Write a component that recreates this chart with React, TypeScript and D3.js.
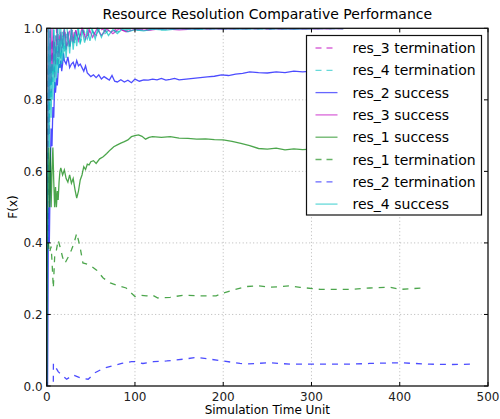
import React from "react";
import * as d3 from "d3";

const W = 500;
const H = 419;
const M = { left: 46.7, right: 488, top: 28.3, bottom: 386 };

const xTicks = [0, 100, 200, 300, 400, 500];
const yTicks = [0.0, 0.2, 0.4, 0.6, 0.8, 1.0];

// [time, F(x)]
const res2Success: [number, number][] = [
  [0, 0], [1, 0], [2, 0.5], [3, 0.4], [4, 0.6], [5, 0.72], [6, 0.67], [7, 0.78], [8, 0.75], [9, 0.85],
  [10, 0.82], [11, 0.86], [12, 0.84], [13, 0.88], [14, 0.9], [15, 0.89], [16, 0.91], [17, 0.88], [18, 0.9],
  [19, 0.93], [20, 0.91], [22, 0.9], [24, 0.92], [26, 0.89], [28, 0.9], [30, 0.905], [32, 0.89], [34, 0.91],
  [36, 0.895], [38, 0.9], [40, 0.89], [42, 0.88], [44, 0.895], [46, 0.875], [48, 0.87], [50, 0.865],
  [53, 0.87], [56, 0.862], [59, 0.87], [62, 0.858], [65, 0.865], [68, 0.86], [71, 0.855], [74, 0.868],
  [77, 0.852], [80, 0.85], [84, 0.856], [88, 0.85], [92, 0.855], [96, 0.848], [100, 0.858], [105, 0.852],
  [110, 0.856], [115, 0.855], [120, 0.858], [125, 0.856], [130, 0.86], [135, 0.855], [140, 0.857],
  [145, 0.86], [150, 0.856], [158, 0.858], [166, 0.86], [174, 0.862], [182, 0.864], [190, 0.866],
  [198, 0.87], [206, 0.868], [214, 0.872], [222, 0.874], [230, 0.878], [240, 0.876], [250, 0.875],
  [260, 0.878], [270, 0.876], [280, 0.88], [290, 0.878], [300, 0.88], [310, 0.882], [320, 0.88],
  [340, 0.879], [360, 0.881], [380, 0.88], [400, 0.882], [420, 0.881], [440, 0.88], [460, 0.882], [480, 0.88],
];

const res1Success: [number, number][] = [
  [0, 0], [1, 0.5], [2, 0.667], [3, 0.5], [4, 0.667], [5, 0.5], [6, 0.6], [7, 0.667], [8, 0.571], [9, 0.5],
  [10, 0.556], [11, 0.5], [12, 0.545], [13, 0.52], [14, 0.57], [15, 0.6], [16, 0.61], [17, 0.6], [18, 0.59],
  [20, 0.604], [22, 0.58], [24, 0.57], [26, 0.59], [28, 0.567], [30, 0.58], [32, 0.55], [34, 0.525],
  [36, 0.545], [38, 0.576], [40, 0.59], [42, 0.613], [44, 0.605], [46, 0.62], [48, 0.618], [50, 0.627],
  [53, 0.63], [56, 0.622], [60, 0.635], [64, 0.641], [68, 0.65], [72, 0.66], [76, 0.669], [80, 0.674],
  [84, 0.679], [88, 0.683], [92, 0.688], [96, 0.697], [100, 0.7], [104, 0.702], [108, 0.698], [112, 0.69],
  [116, 0.695], [120, 0.697], [130, 0.695], [140, 0.697], [150, 0.693], [160, 0.692], [170, 0.69],
  [180, 0.691], [190, 0.689], [200, 0.688], [210, 0.684], [220, 0.678], [230, 0.672], [240, 0.664],
  [250, 0.662], [260, 0.665], [270, 0.66], [280, 0.663], [290, 0.661], [300, 0.662], [320, 0.66],
  [340, 0.663], [360, 0.66], [380, 0.662], [400, 0.661], [430, 0.66],
];

const res1Termination: [number, number][] = [
  [2, 0.4], [3, 0.372], [5, 0.39], [6, 0.35], [7.5, 0.274], [9, 0.361], [11, 0.38], [13, 0.408], [15, 0.39],
  [18, 0.36], [20.7, 0.343], [24.5, 0.361], [28, 0.38], [31, 0.4], [34, 0.427], [37.7, 0.39], [41, 0.344],
  [49, 0.338], [56.6, 0.324], [64, 0.302], [72, 0.288], [79, 0.282], [90, 0.274], [100, 0.25], [106, 0.254],
  [113, 0.252], [120, 0.254], [126, 0.246], [140, 0.248], [155, 0.254], [174, 0.252], [192, 0.252],
  [200, 0.26], [211, 0.268], [226, 0.278], [240, 0.28], [253, 0.276], [276, 0.28], [287, 0.276],
  [310, 0.27], [344, 0.27], [366, 0.274], [389, 0.276], [400, 0.27], [426, 0.274],
];

const res2Termination: [number, number][] = [
  [7.5, 0.012], [7.6, 0.063], [13, 0.04], [22.6, 0.019], [30, 0.031], [39.6, 0.021], [47, 0.019],
  [54.7, 0.037], [64, 0.049], [73.6, 0.056], [85, 0.063], [96, 0.068], [100, 0.068], [109, 0.063],
  [121, 0.068], [136, 0.07], [155, 0.075], [170, 0.08], [185, 0.075], [200, 0.07], [219, 0.063],
  [228, 0.062], [253, 0.065], [276, 0.061], [298, 0.061], [344, 0.061], [366, 0.063], [400, 0.065],
  [434, 0.061], [457, 0.06], [481, 0.061],
];

const res4Success: [number, number][] = [
  [0, 0], [1, 0.5], [2, 1], [3, 0.667], [4, 1], [5, 0.75], [6, 0.9], [7, 0.8], [8, 1], [9, 0.833],
  [10, 0.95], [11, 0.857], [12, 1], [13, 0.875], [14, 0.97], [15, 0.889], [16, 1], [17, 0.9], [18, 0.98],
  [19, 0.91], [20, 1], [22, 0.917], [24, 0.99], [26, 0.93], [28, 1], [30, 0.94], [32, 0.99], [34, 0.95],
  [36, 1], [38, 0.955], [40, 0.995], [43, 0.96], [46, 1], [49, 0.965], [52, 0.995], [55, 0.97], [58, 1],
  [62, 0.975], [66, 0.998], [70, 0.98], [75, 0.997], [80, 0.985], [86, 0.999], [92, 0.99], [100, 0.996],
  [110, 0.993], [120, 0.998], [135, 0.995], [150, 0.999], [170, 0.997], [190, 0.999], [220, 0.998],
  [250, 0.999], [280, 0.998], [310, 0.999], [336, 0.999],
];

const res4Termination: [number, number][] = [
  [0, 0.2], [1, 0.6], [2, 0.95], [3, 0.75], [4, 1], [5, 0.8], [6, 0.97], [7, 0.85], [8, 1], [9, 0.87],
  [10, 0.98], [12, 0.89], [14, 1], [16, 0.91], [18, 0.99], [20, 0.93], [23, 1], [26, 0.94], [29, 0.995],
  [32, 0.955], [35, 1], [38, 0.96], [42, 0.995], [46, 0.97], [50, 1], [55, 0.978], [60, 0.998], [66, 0.985],
  [72, 0.999], [80, 0.99], [90, 0.998], [100, 0.994], [115, 0.999], [130, 0.996], [150, 0.999],
  [180, 0.998], [210, 0.999], [250, 0.998], [290, 0.999], [336, 0.999],
];

const res3Success: [number, number][] = [
  [1, 0.5], [2, 1], [3, 0.8], [4, 1], [5, 0.85], [6, 1], [7, 0.88], [8, 0.98], [10, 0.9], [12, 1],
  [14, 0.92], [16, 0.99], [18, 0.95], [20, 1], [22, 0.94], [24, 0.99], [26, 0.95], [28, 1], [30, 0.96],
  [33, 0.995], [36, 0.965], [40, 1], [44, 0.97], [48, 0.998], [52, 0.975], [57, 0.999], [62, 0.98],
  [68, 0.998], [75, 0.985], [82, 0.999], [90, 0.99], [100, 0.997], [115, 0.994], [130, 0.999],
  [150, 0.996], [175, 0.999], [200, 0.998], [240, 0.999], [280, 0.998], [336, 0.999],
];

const res3Termination: [number, number][] = [
  [1, 0.4], [2, 0.9], [3, 0.7], [4, 1], [5, 0.82], [7, 0.97], [9, 0.86], [11, 1], [13, 0.9], [15, 0.99],
  [17, 0.93], [20, 1], [23, 0.95], [26, 0.995], [29, 0.96], [32, 1], [36, 0.965], [40, 0.998], [45, 0.972],
  [50, 0.999], [56, 0.98], [63, 0.998], [70, 0.986], [80, 0.999], [90, 0.992], [100, 0.998], [120, 0.996],
  [140, 0.999], [170, 0.997], [200, 0.999], [250, 0.998], [300, 0.999], [336, 0.999],
];

const BLUE = "#0000ff";
const GREEN = "#008000";
const MAGENTA = "#bf00bf";
const CYAN = "#00bfbf";

type Series = { name: string; data: [number, number][]; color: string; dashed: boolean };

const series: Series[] = [
  { name: "res_3 termination", data: res3Termination, color: MAGENTA, dashed: true },
  { name: "res_4 termination", data: res4Termination, color: CYAN, dashed: true },
  { name: "res_2 success", data: res2Success, color: BLUE, dashed: false },
  { name: "res_3 success", data: res3Success, color: MAGENTA, dashed: false },
  { name: "res_1 success", data: res1Success, color: GREEN, dashed: false },
  { name: "res_1 termination", data: res1Termination, color: GREEN, dashed: true },
  { name: "res_2 termination", data: res2Termination, color: BLUE, dashed: true },
  { name: "res_4 success", data: res4Success, color: CYAN, dashed: false },
];

const FONT = "'DejaVu Sans', sans-serif";

export default function App() {
  const x = d3.scaleLinear().domain([0, 500]).range([M.left, M.right]);
  const y = d3.scaleLinear().domain([0, 1]).range([M.bottom, M.top]);
  const line = d3
    .line<[number, number]>()
    .x((d) => x(d[0]))
    .y((d) => y(d[1]));

  const legX = 306.5;
  const legY = 35.5;
  const legW = 175;
  const legH = 179.5;
  const rowH = 22.3;

  return (
    <svg
      width={W}
      height={H}
      style={{ position: "absolute", left: 0, top: 0, background: "#fff" }}
      fontFamily={FONT}
    >
      <defs>
        <clipPath id="plot">
          <rect x={M.left} y={M.top - 1} width={M.right - M.left} height={M.bottom - M.top + 1} />
        </clipPath>
      </defs>
      <rect x={0} y={0} width={W} height={H} fill="#fff" />
      <text x={(M.left + M.right) / 2} y={19} textAnchor="middle" fontSize={14} fill="#000">
        Resource Resolution Comparative Performance
      </text>

      {/* grid */}
      {xTicks.slice(1, -1).map((t) => (
        <line key={"gx" + t} x1={x(t)} x2={x(t)} y1={M.top} y2={M.bottom} stroke="#888" strokeWidth={0.6} strokeDasharray="1,2.5" />
      ))}
      {yTicks.slice(1, -1).map((t) => (
        <line key={"gy" + t} x1={M.left} x2={M.right} y1={y(t)} y2={y(t)} stroke="#888" strokeWidth={0.6} strokeDasharray="1,2.5" />
      ))}

      <g clipPath="url(#plot)">
        {series.map((s) => (
          <path
            key={s.name}
            d={line(s.data) || ""}
            fill="none"
            stroke={s.color}
            strokeOpacity={0.7}
            strokeWidth={1.3}
            strokeDasharray={s.dashed ? "6,6" : undefined}
          />
        ))}
      </g>

      {/* ticks */}
      {xTicks.map((t) => (
        <g key={"tx" + t}>
          <line x1={x(t)} x2={x(t)} y1={M.bottom} y2={M.bottom - 4} stroke="#000" />
          <line x1={x(t)} x2={x(t)} y1={M.top} y2={M.top + 4} stroke="#000" />
          <text x={x(t)} y={M.bottom + 15} textAnchor="middle" fontSize={12} fill="#222">
            {t}
          </text>
        </g>
      ))}
      {yTicks.map((t) => (
        <g key={"ty" + t}>
          <line x1={M.left} x2={M.left + 4} y1={y(t)} y2={y(t)} stroke="#000" />
          <line x1={M.right} x2={M.right - 4} y1={y(t)} y2={y(t)} stroke="#000" />
          <text x={M.left - 4} y={y(t) + 4.5} textAnchor="end" fontSize={12} fill="#222">
            {t.toFixed(1)}
          </text>
        </g>
      ))}

      <rect x={M.left} y={M.top} width={M.right - M.left} height={M.bottom - M.top} fill="none" stroke="#111" strokeWidth={1.3} />

      <text x={(M.left + M.right) / 2} y={414} textAnchor="middle" fontSize={12} fill="#000">
        Simulation Time Unit
      </text>
      <text transform={`translate(17,207) rotate(-90)`} textAnchor="middle" fontSize={12} fill="#000">
        F(x)
      </text>

      {/* legend */}
      <rect x={legX} y={legY} width={legW} height={legH} fill="#fff" stroke="#111" strokeWidth={1.2} />
      {series.map((s, i) => {
        const cy = legY + 12.5 + i * rowH;
        return (
          <g key={"leg" + s.name}>
            <line
              x1={legX + 9}
              x2={legX + 31}
              y1={cy}
              y2={cy}
              stroke={s.color}
              strokeOpacity={0.6}
              strokeWidth={1.3}
              strokeDasharray={s.dashed ? "6,5" : undefined}
            />
            <text x={legX + 46} y={cy + 5} fontSize={14} fill="#000">
              {s.name}
            </text>
          </g>
        );
      })}
    </svg>
  );
}
